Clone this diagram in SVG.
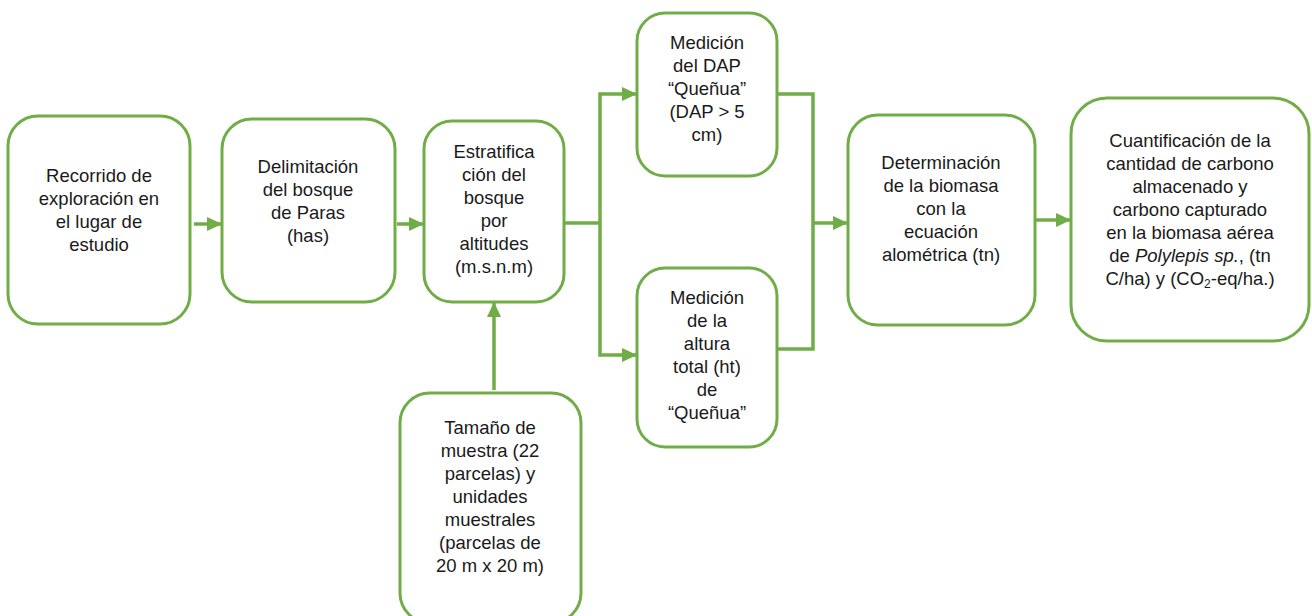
<svg xmlns="http://www.w3.org/2000/svg" width="1312" height="616" viewBox="0 0 1312 616">
<style>
.box{fill:#fff;stroke:#70AD47;stroke-width:3}
.t{font-family:"Liberation Sans",Arial,sans-serif;font-size:18.5px;fill:#1a1a1a;text-anchor:middle}
.c{fill:none;stroke:#70AD47;stroke-width:3.5}
</style>
<defs>
<marker id="ah" markerUnits="userSpaceOnUse" markerWidth="16" markerHeight="16" viewBox="0 0 16 16" refX="14" refY="8" orient="auto">
<path d="M0,1 L15,8 L0,15 Z" fill="#70AD47"/>
</marker>
</defs>
<rect width="1312" height="616" fill="#fff"/>
<g id="connectors">
<line class="c" x1="194" y1="224" x2="221" y2="224" marker-end="url(#ah)"/>
<line class="c" x1="397" y1="224" x2="423" y2="224" marker-end="url(#ah)"/>
<polyline class="c" points="564,223 600,223"/>
<polyline class="c" points="600,223 600,94 636,94" marker-end="url(#ah)"/>
<polyline class="c" points="600,223 600,355 636,355" marker-end="url(#ah)"/>
<polyline class="c" points="777,94 813,94 813,349 777,349"/>
<line class="c" x1="813" y1="223" x2="847" y2="223" marker-end="url(#ah)"/>
<line class="c" x1="1035" y1="220" x2="1070" y2="220" marker-end="url(#ah)"/>
<line class="c" x1="494" y1="390" x2="494" y2="303" marker-end="url(#ah)"/>
</g>
<g id="n1">
<rect class="box" x="8" y="116" width="182" height="208" rx="30"/>
<text class="t"><tspan x="99" y="182">Recorrido de</tspan><tspan x="99" y="205">exploración en</tspan><tspan x="99" y="228">el lugar de</tspan><tspan x="99" y="251">estudio</tspan></text>
</g>
<g id="n2">
<rect class="box" x="222" y="119" width="173" height="183" rx="30"/>
<text class="t"><tspan x="308" y="172.5">Delimitación</tspan><tspan x="308" y="195.5">del bosque</tspan><tspan x="308" y="218.5">de Paras</tspan><tspan x="308" y="241.5">(has)</tspan></text>
</g>
<g id="n3">
<rect class="box" x="424" y="121" width="140" height="181" rx="28"/>
<text class="t"><tspan x="494" y="157.5">Estratifica</tspan><tspan x="494" y="180.5">ción del</tspan><tspan x="494" y="203.5">bosque</tspan><tspan x="494" y="226.5">por</tspan><tspan x="494" y="249.5">altitudes</tspan><tspan x="494" y="272.5">(m.s.n.m)</tspan></text>
</g>
<g id="n4">
<rect class="box" x="637" y="13" width="140" height="163" rx="28"/>
<text class="t"><tspan x="707" y="49">Medición</tspan><tspan x="707" y="72">del DAP</tspan><tspan x="707" y="95">“Queñua”</tspan><tspan x="707" y="118">(DAP &gt; 5</tspan><tspan x="707" y="141">cm)</tspan></text>
</g>
<g id="n5">
<rect class="box" x="637" y="268" width="140" height="179" rx="28"/>
<text class="t"><tspan x="707" y="303.5">Medición</tspan><tspan x="707" y="326.5">de la</tspan><tspan x="707" y="349.5">altura</tspan><tspan x="707" y="372.5">total (ht)</tspan><tspan x="707" y="395.5">de</tspan><tspan x="707" y="418.5">“Queñua”</tspan></text>
</g>
<g id="n6">
<rect class="box" x="848" y="115" width="187" height="210" rx="30"/>
<text class="t"><tspan x="941" y="168.5">Determinación</tspan><tspan x="941" y="191.5">de la biomasa</tspan><tspan x="941" y="214.5">con la</tspan><tspan x="941" y="237.5">ecuación</tspan><tspan x="941" y="260.5">alométrica (tn)</tspan></text>
</g>
<g id="n7">
<rect class="box" x="1071" y="98" width="238" height="243" rx="36"/>
<text class="t"><tspan x="1190" y="146.5">Cuantificación de la</tspan><tspan x="1190" y="169.5">cantidad de carbono</tspan><tspan x="1190" y="192.5">almacenado y</tspan><tspan x="1190" y="215.5">carbono capturado</tspan><tspan x="1190" y="238.5">en la biomasa aérea</tspan><tspan x="1190" y="261.5">de <tspan font-style="italic">Polylepis sp.</tspan>, (tn</tspan><tspan x="1190" y="284.5">C/ha) y (CO<tspan font-size="12" dy="3">2</tspan><tspan dy="-3">-eq/ha.)</tspan></tspan></text>
</g>
<g id="n8">
<rect class="box" x="400" y="393" width="181" height="230" rx="30"/>
<text class="t"><tspan x="490" y="433.5">Tamaño de</tspan><tspan x="490" y="456.5">muestra (22</tspan><tspan x="490" y="479.5">parcelas) y</tspan><tspan x="490" y="502.5">unidades</tspan><tspan x="490" y="525.5">muestrales</tspan><tspan x="490" y="548.5">(parcelas de</tspan><tspan x="490" y="571.5">20 m x 20 m)</tspan></text>
</g>
</svg>
